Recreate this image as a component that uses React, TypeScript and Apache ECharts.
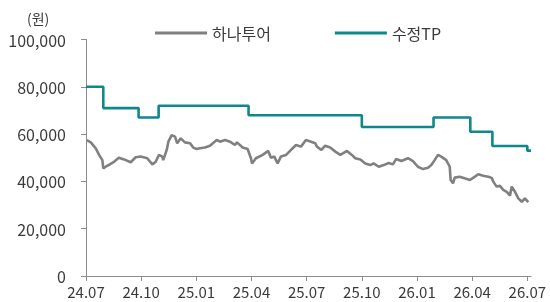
import React, { useEffect, useRef } from "react";
import * as echarts from "echarts";

// x values: months elapsed since 2024.07
const tickMonths = [0, 3, 6, 9, 12, 15, 18, 21, 24];
const tickLabels = ["24.07", "24.10", "25.01", "25.04", "25.07", "25.10", "26.01", "26.04", "26.07"];

const priceX = [
  0.04, 0.26, 0.53, 0.71, 0.89, 0.94, 1.07, 1.25, 1.52, 1.79, 2.07, 2.43, 2.7, 2.97, 3.33, 3.61, 3.79, 3.97,
  4.15, 4.2, 4.39, 4.48, 4.66, 4.84, 4.96, 5.15, 5.38, 5.66, 5.83, 6.02, 6.2, 6.47, 6.74, 7.11, 7.29, 7.56,
  7.83, 8.1, 8.21, 8.52, 8.79, 8.97, 9.03, 9.24, 9.61, 9.91, 10.06, 10.24, 10.42, 10.6, 10.88, 11.15, 11.42,
  11.69, 11.96, 12.24, 12.47, 12.56, 12.8, 13.01, 13.28, 13.56, 13.83, 14.19, 14.46, 14.64, 14.92, 15.19,
  15.46, 15.64, 15.92, 16.19, 16.46, 16.69, 16.87, 17.15, 17.51, 17.78, 18.05, 18.33, 18.6, 18.78, 18.96,
  19.14, 19.32, 19.59, 19.78, 19.83, 19.96, 20.05, 20.32, 20.59, 20.88, 21.15, 21.33, 21.6, 21.88, 22.06,
  22.15, 22.33, 22.51, 22.69, 22.88, 23.06, 23.15, 23.33, 23.51, 23.7, 23.87, 24.05,
];
const priceY = [
  57500, 56500, 54000, 51200, 49000, 45500, 46200, 47000, 48300, 50000, 49300, 48100, 50200, 50500, 49800,
  47200, 48300, 51200, 50500, 49000, 53300, 56800, 59600, 58900, 56100, 58200, 56500, 56100, 54300, 53700,
  54000, 54300, 55100, 57500, 56800, 57500, 56800, 55400, 56500, 54300, 53700, 49800, 47600, 49800, 51200,
  52900, 50000, 50500, 47600, 50500, 51200, 53300, 55400, 54700, 57500, 56800, 56100, 54700, 53300, 55100,
  54300, 52600, 51200, 52900, 51200, 49800, 49300, 47600, 46900, 47600, 46200, 46900, 47800, 47200, 49500,
  48600, 49800, 48600, 46200, 45200, 45800, 46900, 49000, 51200, 50500, 49000, 46200, 40600, 39200, 41600,
  42000, 41300, 40600, 42000, 43000, 42400, 42000, 41500, 39900, 37800, 38100, 36400, 35600, 34000, 37800,
  35600, 32800, 31400, 32800, 31200,
];

const tpX = [0, 0.94, 2.86, 3.95, 8.84, 15.0, 18.9, 20.9, 22.1, 24.0, 24.2];
const tpY = [80000, 71000, 67000, 72000, 68000, 63000, 67000, 61000, 55000, 53000, 53000];

const FONT = "'Noto Sans CJK KR', 'Noto Sans', sans-serif";
const TEXT = "#3a3a3a";
const AXIS = "#8c8c8c";
const GRAY = "#808080";
const TEAL = "#0f878c";

export default function App() {
  const ref = useRef<HTMLDivElement>(null);
  useEffect(() => {
    if (!ref.current) return;
    const chart = echarts.init(ref.current, undefined, { renderer: "svg" });
    chart.setOption({
      animation: false,
      textStyle: { fontFamily: FONT },
      grid: { left: 86, right: 19, top: 39.5, bottom: 26, containLabel: false },
      legend: {
        left: 150,
        top: 20,
        icon: "rect",
        itemWidth: 52,
        itemHeight: 3,
        itemGap: 64,
        textStyle: { fontSize: 16, color: TEXT, fontFamily: FONT },
        data: [
          { name: "하나투어", itemStyle: { color: GRAY } },
          { name: "수정TP", itemStyle: { color: TEAL } },
        ],
      },
      graphic: [
        {
          type: "text",
          left: 27,
          top: 11,
          style: { text: "(원)", fontSize: 14, fill: TEXT, fontFamily: FONT },
        },
      ],
      xAxis: {
        type: "value",
        min: 0,
        max: 24.2,
        interval: 3,
        splitLine: { show: false },
        axisLine: { show: true, lineStyle: { color: AXIS, width: 1 } },
        axisTick: { show: true, length: 5, lineStyle: { color: AXIS }, customValues: tickMonths },
        axisLabel: {
          customValues: tickMonths,
          fontSize: 15,
          color: TEXT,
          margin: 8,
          fontFamily: FONT,
          formatter: (v: number) => {
            const i = tickMonths.indexOf(Math.round(v));
            return i >= 0 ? tickLabels[i] : "";
          },
        },
      },
      yAxis: {
        type: "value",
        min: 0,
        max: 100000,
        interval: 20000,
        splitLine: { show: false },
        axisLine: { show: true, lineStyle: { color: AXIS, width: 1 } },
        axisTick: { show: true, length: 5, lineStyle: { color: AXIS } },
        axisLabel: {
          fontSize: 16,
          color: TEXT,
          margin: 20,
          fontFamily: FONT,
          formatter: (v: number) => v.toLocaleString("en-US"),
        },
      },
      series: [
        {
          name: "하나투어",
          type: "line",
          symbol: "none",
          data: priceX.map((x, i) => [x, priceY[i]]),
          lineStyle: { color: GRAY, width: 2.6 },
          itemStyle: { color: GRAY },
        },
        {
          name: "수정TP",
          type: "line",
          step: "end",
          symbol: "none",
          data: tpX.map((x, i) => [x, tpY[i]]),
          lineStyle: { color: TEAL, width: 2.6 },
          itemStyle: { color: TEAL },
        },
      ],
    });
    return () => chart.dispose();
  }, []);
  return <div ref={ref} style={{ position: "fixed", left: 0, top: 0, width: 550, height: 302 }} />;
}
